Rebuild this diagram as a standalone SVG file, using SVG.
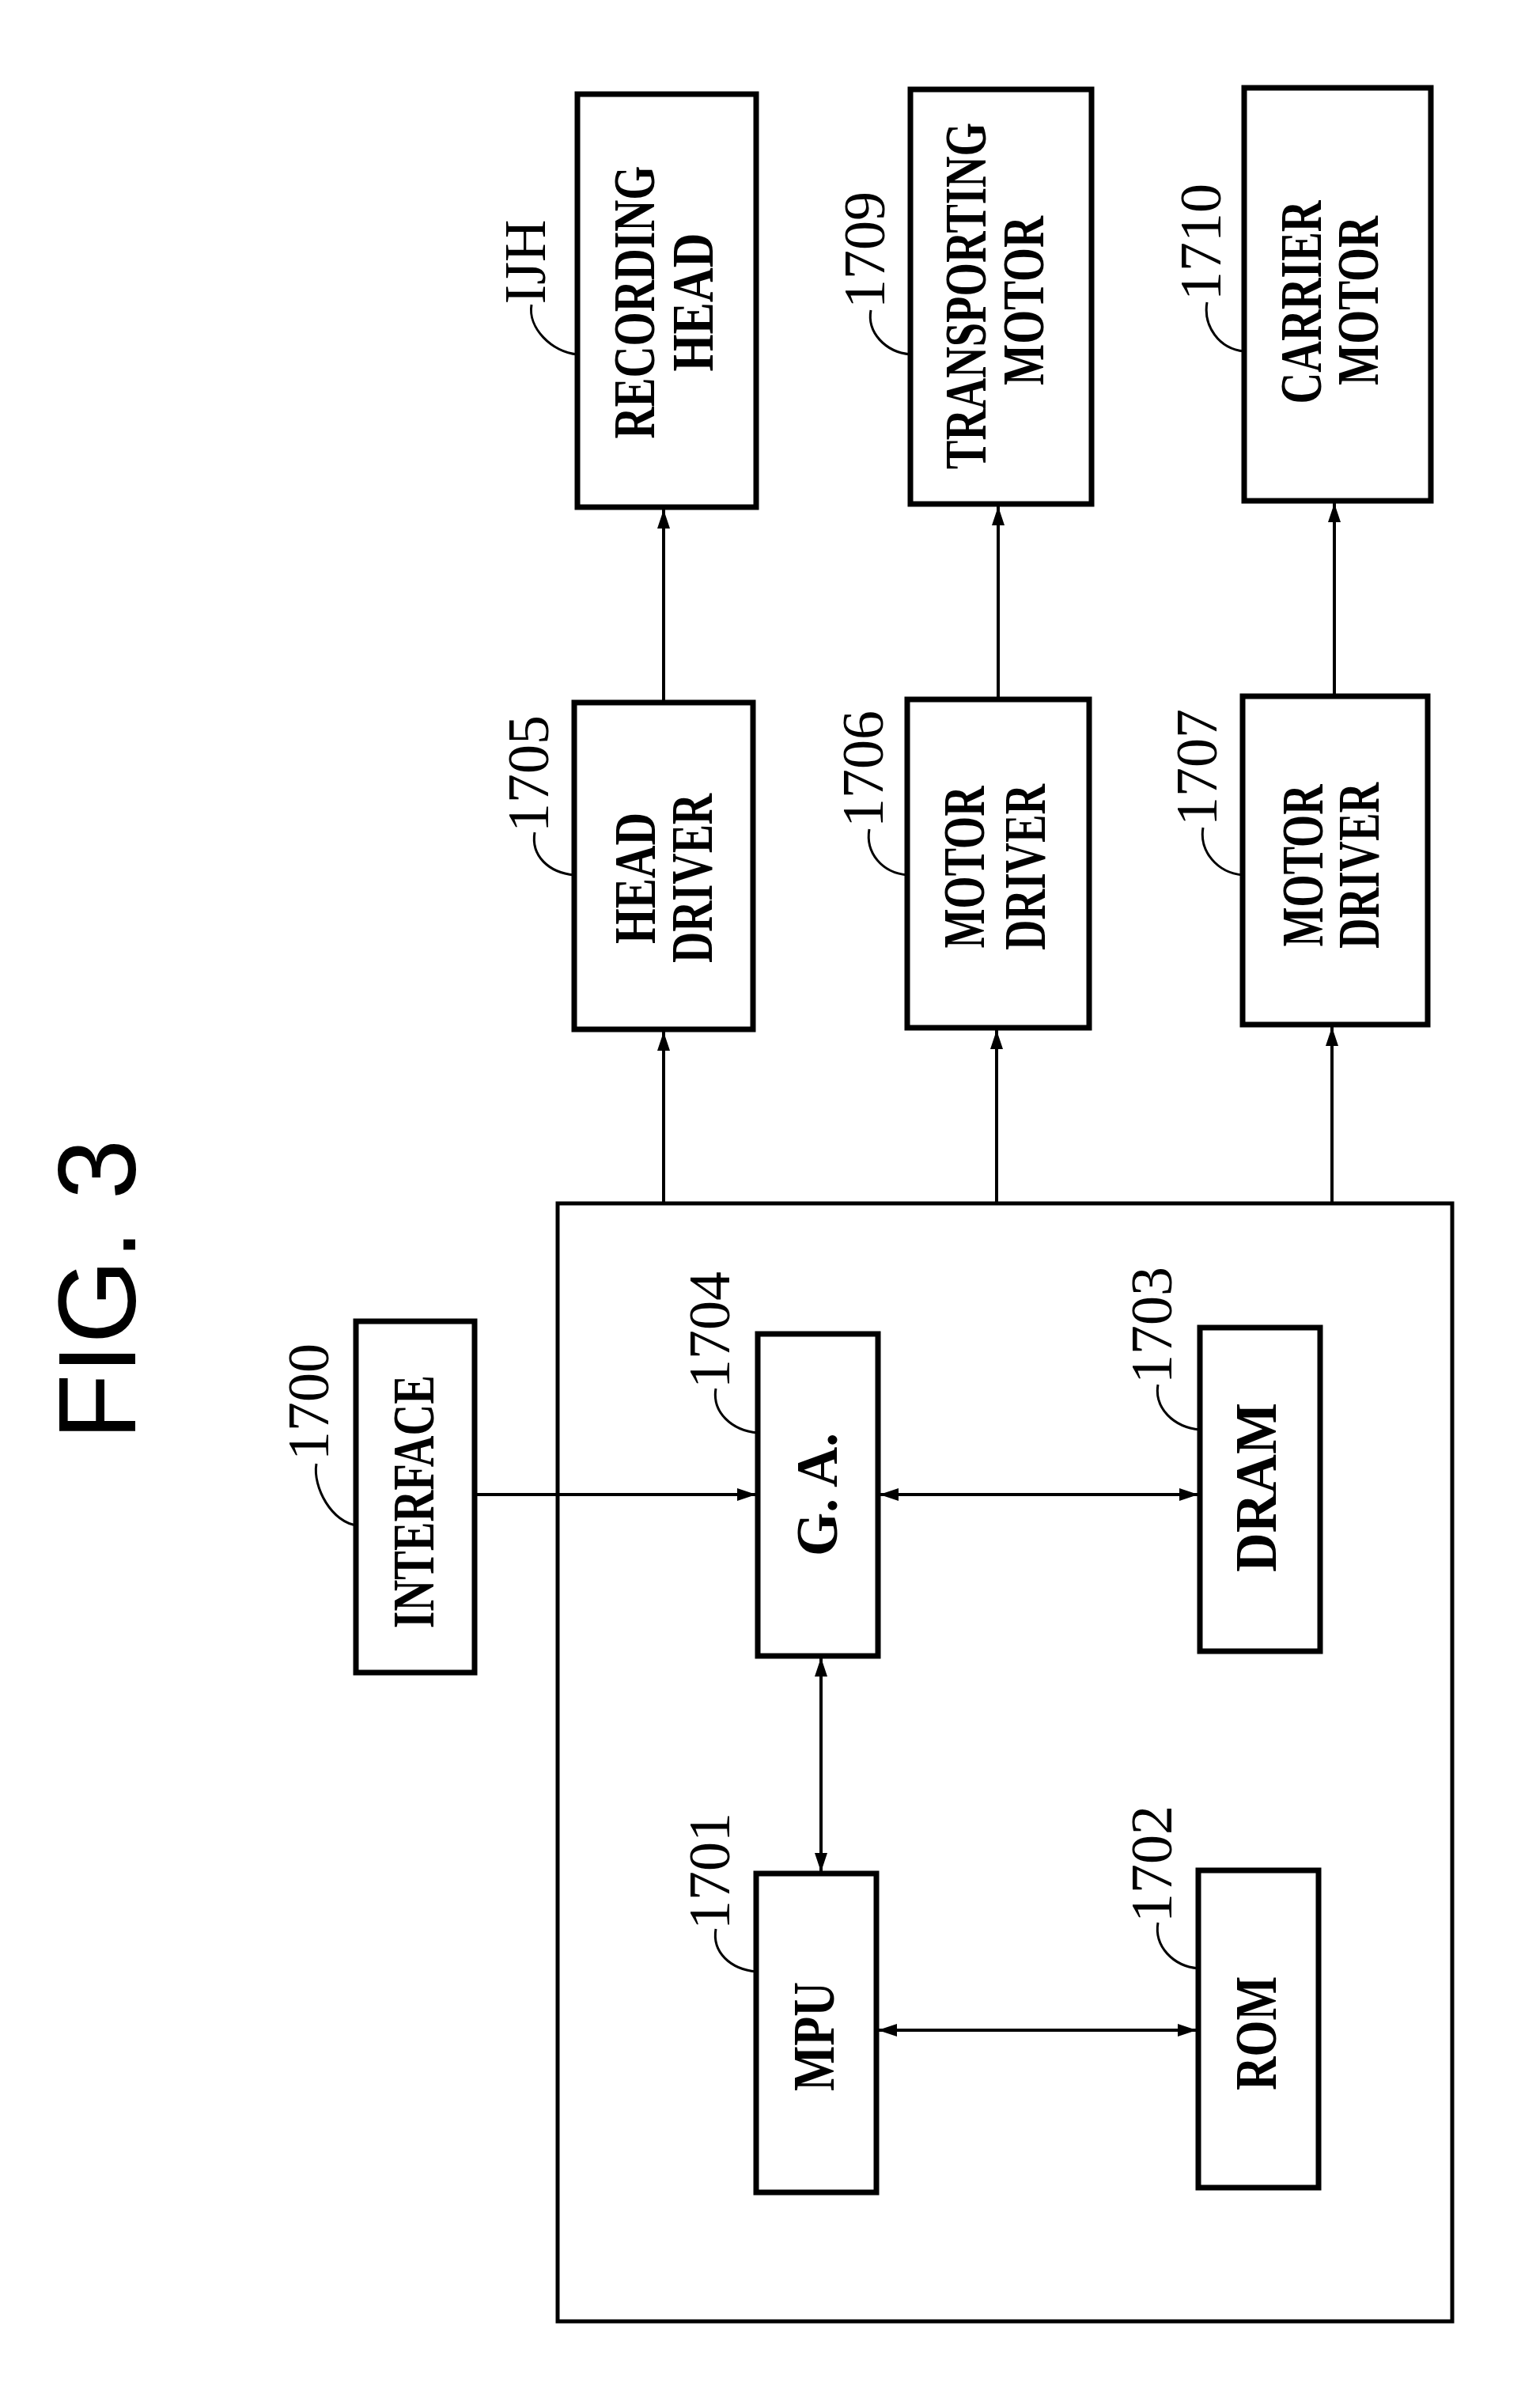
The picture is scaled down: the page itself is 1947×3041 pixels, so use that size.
<svg xmlns="http://www.w3.org/2000/svg" width="1947" height="3041" viewBox="0 0 1947 3041">
<style>
.b{fill:#fff;stroke:#000;stroke-width:7}
.c{fill:none;stroke:#000;stroke-width:4}
.t{font-family:"Liberation Serif",serif;font-weight:bold;font-size:74px;text-anchor:middle}
.n{font-family:"Liberation Serif",serif;font-size:74px;text-anchor:middle}
.l{fill:none;stroke:#000;stroke-width:3}
</style>
<defs>
<marker id="a" markerUnits="userSpaceOnUse" markerWidth="26" markerHeight="20" refX="24" refY="10" orient="auto-start-reverse"><path d="M0,2 L24,10 L0,18 Z"/></marker>
</defs>
<rect width="1947" height="3041" fill="#fff"/>
<text transform="translate(171,1630) rotate(-90)" font-family="Liberation Sans,sans-serif" font-size="140" text-anchor="middle" textLength="380" lengthAdjust="spacingAndGlyphs">FIG. 3</text>
<g id="connectors">
<path class="c" d="M839,1521 V1304" marker-end="url(#a)"/>
<path class="c" d="M1260,1521 V1302" marker-end="url(#a)"/>
<path class="c" d="M1684,1521 V1298" marker-end="url(#a)"/>
<path class="c" d="M839,888 V644" marker-end="url(#a)"/>
<path class="c" d="M1262,884 V640" marker-end="url(#a)"/>
<path class="c" d="M1687,880 V636" marker-end="url(#a)"/>
<path class="c" d="M600,1889 H956" marker-end="url(#a)"/>
<path class="c" d="M1112,1889 H1515" marker-start="url(#a)" marker-end="url(#a)"/>
<path class="c" d="M1038,2095 V2366" marker-start="url(#a)" marker-end="url(#a)"/>
<path class="c" d="M1110,2566 H1513" marker-start="url(#a)" marker-end="url(#a)"/>
</g>
<g id="main"><rect x="705" y="1521" width="1131" height="1413" fill="none" stroke="#000" stroke-width="5"/></g>
<g id="interface"><rect class="b" x="450" y="1670" width="150" height="444"/>
<text class="t" transform="translate(548,1898) rotate(-90)" textLength="320" lengthAdjust="spacingAndGlyphs">INTERFACE</text>
<text class="n" transform="translate(415,1772) rotate(-90)">1700</text><path class="l" d="M400,1850 C395,1880 420,1925 452,1928"/></g>
<g id="ga"><rect class="b" x="958" y="1686" width="152" height="407"/>
<text class="t" transform="translate(1058,1889) rotate(-90)" textLength="156" lengthAdjust="spacingAndGlyphs">G. A.</text>
<text class="n" transform="translate(922,1681) rotate(-90)">1704</text><path class="l" d="M905,1755 C900,1785 925,1808 958,1811"/></g>
<g id="dram"><rect class="b" x="1517" y="1678" width="152" height="409"/>
<text class="t" transform="translate(1613,1880) rotate(-90)" textLength="214" lengthAdjust="spacingAndGlyphs">DRAM</text>
<text class="n" transform="translate(1481,1675) rotate(-90)">1703</text><path class="l" d="M1464,1750 C1459,1780 1484,1804 1517,1807"/></g>
<g id="mpu"><rect class="b" x="956" y="2368" width="152" height="403"/>
<text class="t" transform="translate(1054,2574) rotate(-90)" textLength="138" lengthAdjust="spacingAndGlyphs">MPU</text>
<text class="n" transform="translate(922,2365) rotate(-90)">1701</text><path class="l" d="M905,2438 C900,2468 924,2489 956,2492"/></g>
<g id="rom"><rect class="b" x="1515" y="2364" width="152" height="401"/>
<text class="t" transform="translate(1613,2570) rotate(-90)" textLength="144" lengthAdjust="spacingAndGlyphs">ROM</text>
<text class="n" transform="translate(1481,2356) rotate(-90)">1702</text><path class="l" d="M1464,2430 C1459,2460 1483,2485 1515,2488"/></g>
<g id="hd"><rect class="b" x="726" y="888" width="226" height="413"/>
<text class="t" transform="translate(828,1110) rotate(-90)" textLength="166" lengthAdjust="spacingAndGlyphs">HEAD</text>
<text class="t" transform="translate(900,1110) rotate(-90)" textLength="214" lengthAdjust="spacingAndGlyphs">DRIVER</text>
<text class="n" transform="translate(693,978) rotate(-90)">1705</text><path class="l" d="M676,1052 C671,1082 694,1103 726,1106"/></g>
<g id="md1"><rect class="b" x="1147" y="884" width="230" height="415"/>
<text class="t" transform="translate(1244,1096) rotate(-90)" textLength="205" lengthAdjust="spacingAndGlyphs">MOTOR</text>
<text class="t" transform="translate(1321,1096) rotate(-90)" textLength="210" lengthAdjust="spacingAndGlyphs">DRIVER</text>
<text class="n" transform="translate(1116,972) rotate(-90)">1706</text><path class="l" d="M1099,1048 C1094,1078 1115,1103 1147,1106"/></g>
<g id="md2"><rect class="b" x="1571" y="880" width="234" height="415"/>
<text class="t" transform="translate(1672,1094) rotate(-90)" textLength="205" lengthAdjust="spacingAndGlyphs">MOTOR</text>
<text class="t" transform="translate(1743,1094) rotate(-90)" textLength="210" lengthAdjust="spacingAndGlyphs">DRIVER</text>
<text class="n" transform="translate(1538,970) rotate(-90)">1707</text><path class="l" d="M1521,1046 C1516,1076 1539,1103 1571,1106"/></g>
<g id="rh"><rect class="b" x="730" y="119" width="226" height="522"/>
<text class="t" transform="translate(827,382) rotate(-90)" textLength="345" lengthAdjust="spacingAndGlyphs">RECORDING</text>
<text class="t" transform="translate(901,382) rotate(-90)" textLength="175" lengthAdjust="spacingAndGlyphs">HEAD</text>
<text class="n" transform="translate(689,331) rotate(-90)">IJH</text><path class="l" d="M672,385 C667,415 698,445 730,448"/></g>
<g id="tm"><rect class="b" x="1151" y="113" width="229" height="524"/>
<text class="t" transform="translate(1246,374) rotate(-90)" textLength="438" lengthAdjust="spacingAndGlyphs">TRANSPORTING</text>
<text class="t" transform="translate(1319,380) rotate(-90)" textLength="214" lengthAdjust="spacingAndGlyphs">MOTOR</text>
<text class="n" transform="translate(1118,316) rotate(-90)">1709</text><path class="l" d="M1101,392 C1096,420 1119,445 1151,448"/></g>
<g id="cm"><rect class="b" x="1573" y="111" width="236" height="522"/>
<text class="t" transform="translate(1670,382) rotate(-90)" textLength="257" lengthAdjust="spacingAndGlyphs">CARRIER</text>
<text class="t" transform="translate(1742,380) rotate(-90)" textLength="214" lengthAdjust="spacingAndGlyphs">MOTOR</text>
<text class="n" transform="translate(1543,306) rotate(-90)">1710</text><path class="l" d="M1526,382 C1521,412 1541,441 1573,444"/></g>
</svg>
